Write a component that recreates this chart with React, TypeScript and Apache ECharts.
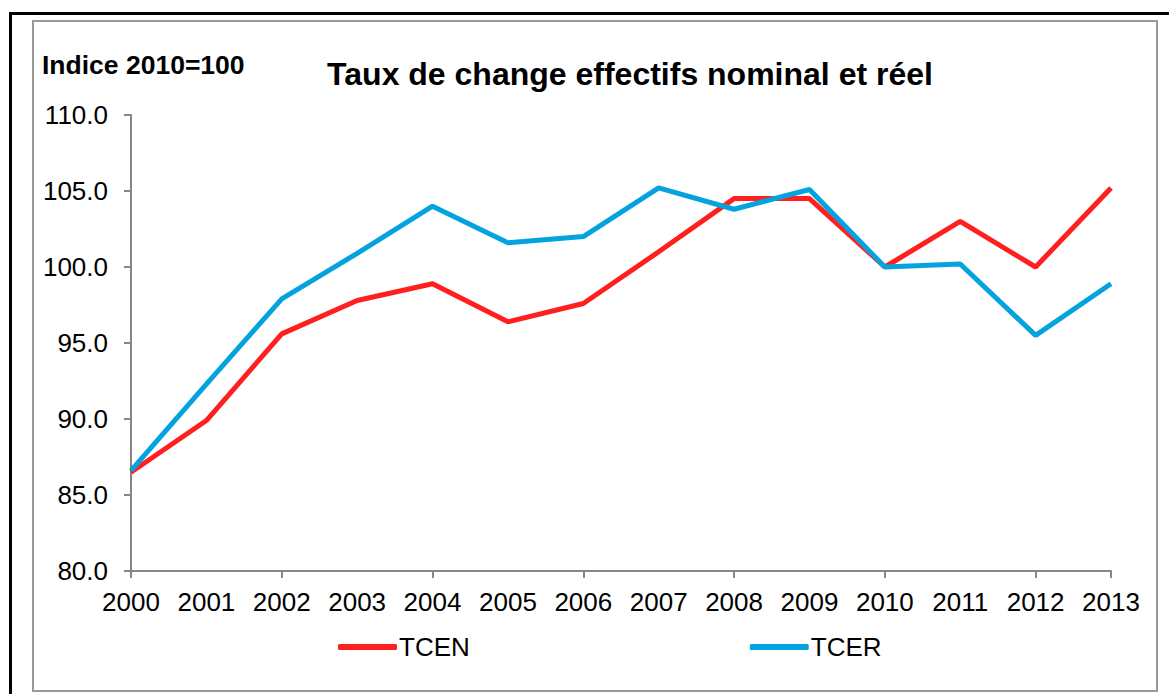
import React, { useEffect, useRef } from "react";
import * as echarts from "echarts";

const years = ["2000","2001","2002","2003","2004","2005","2006","2007","2008","2009","2010","2011","2012","2013"];
const tcen = [86.5, 89.9, 95.6, 97.8, 98.9, 96.4, 97.6, 101.0, 104.5, 104.5, 100.0, 103.0, 100.0, 105.2];
const tcer = [86.6, 92.3, 97.9, 100.9, 104.0, 101.6, 102.0, 105.2, 103.8, 105.1, 100.0, 100.2, 95.5, 98.9];
const yMin = 80;
const yMax = 110;
const yStep = 5;

const FONT = "'Liberation Sans', Arial, sans-serif";

export default function App() {
  const ref = useRef<HTMLDivElement>(null);
  useEffect(() => {
    document.body.style.margin = "0";
    const chart = echarts.init(ref.current!, null, { renderer: "svg" });
    chart.setOption({
      animation: false,
      backgroundColor: "#ffffff",
      textStyle: { fontFamily: FONT },
      title: {
        text: "Taux de change effectifs nominal et réel",
        left: 625,
        textAlign: "center",
        top: 53,
        textStyle: { fontFamily: FONT, fontSize: 32, fontWeight: "bold", color: "#000" },
      },
      graphic: [
        { type: "rect", shape: { x: 33, y: 21, width: 1124, height: 670 }, style: { fill: "none", stroke: "#999999", lineWidth: 2 }, silent: true },
        { type: "rect", shape: { x: 9, y: 12, width: 1160, height: 3 }, style: { fill: "#000" }, silent: true },
        { type: "rect", shape: { x: 9, y: 12, width: 3, height: 682 }, style: { fill: "#000" }, silent: true },
        {
          type: "text",
          left: 42,
          top: 51,
          style: { text: "Indice 2010=100", font: "bold 26.5px " + FONT, fill: "#000" },
        },
      ],
      legend: {
        left: 333,
        top: 629,
        itemGap: 280,
        itemWidth: 59,
        itemHeight: 6,
        icon: "roundRect",
        textStyle: { fontFamily: FONT, fontSize: 26, color: "#000", padding: [0, 0, 0, -3] },
        data: ["TCEN", "TCER"],
      },
      grid: { left: 131, right: 58, top: 115, bottom: 123, containLabel: false },
      xAxis: {
        type: "category",
        data: years,
        boundaryGap: false,
        axisLine: { lineStyle: { color: "#868686", width: 2 } },
        axisTick: { show: true, interval: 1, length: 7, lineStyle: { color: "#868686", width: 2 } },
        axisLabel: { interval: 0, margin: 18, fontSize: 26, color: "#000", fontFamily: FONT },
        splitLine: { show: false },
      },
      yAxis: {
        type: "value",
        min: yMin,
        max: yMax,
        interval: yStep,
        axisLine: { show: true, lineStyle: { color: "#868686", width: 2 } },
        axisTick: { show: true, length: 7, lineStyle: { color: "#868686", width: 2 } },
        axisLabel: { margin: 23, fontSize: 26, color: "#000", fontFamily: FONT, formatter: (v: number) => v.toFixed(1) },
        splitLine: { show: false },
      },
      series: [
        { name: "TCEN", type: "line", data: tcen, symbol: "none", lineStyle: { color: "#FF1F1F", width: 5 }, itemStyle: { color: "#FF1F1F" } },
        { name: "TCER", type: "line", data: tcer, symbol: "none", lineStyle: { color: "#04A3E0", width: 5 }, itemStyle: { color: "#04A3E0" } },
      ],
    });
    return () => chart.dispose();
  }, []);
  return <div ref={ref} style={{ width: 1169, height: 694 }} />;
}
